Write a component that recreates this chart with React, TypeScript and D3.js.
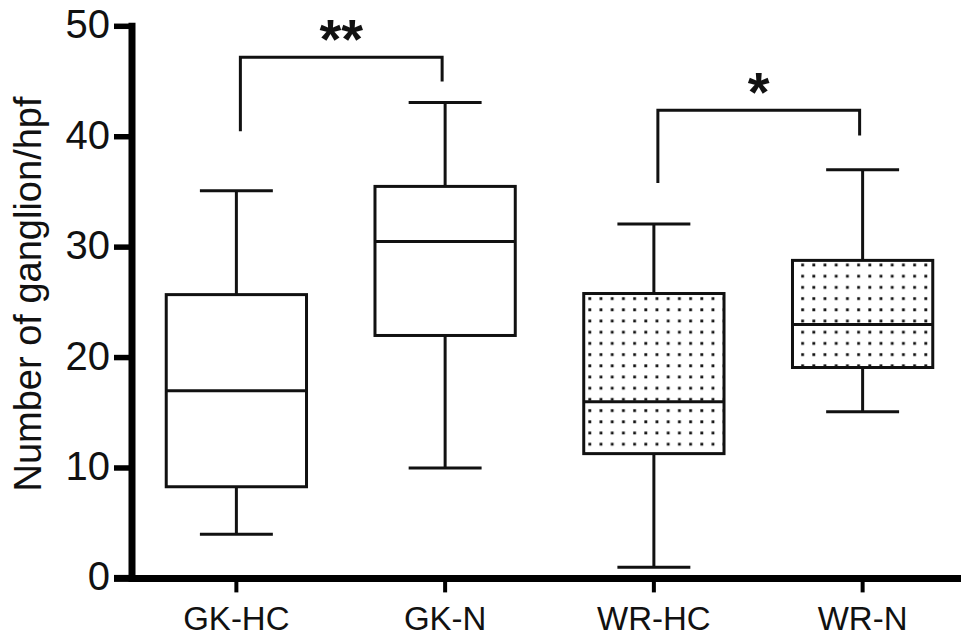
import React from 'react';
import * as d3 from 'd3';

const groups = ['GK-HC', 'GK-N', 'WR-HC', 'WR-N'];
const whiskerLow = [4, 10, 1, 15.1];
const q1 = [8.3, 22, 11.3, 19.1];
const medians = [17, 30.5, 16, 23];
const q3 = [25.7, 35.5, 25.8, 28.8];
const whiskerHigh = [35.1, 43.1, 32.1, 37];
const dotted = [false, false, true, true];
const yTicks = [0, 10, 20, 30, 40, 50];

// significance brackets
const bracketFrom = ['GK-HC', 'WR-HC'];
const bracketTo = ['GK-N', 'WR-N'];
const bracketTop = [47.2, 42.4];
const bracketLeftEnd = [40.5, 35.8];
const bracketRightEnd = [45, 40.1];
const bracketStars = ['**', '*'];

const font = 'Arial, "Liberation Sans", sans-serif';

const App = () => {
  const width = 961;
  const height = 637;
  const axisX = 132;

  const xScale = d3.scaleBand()
    .domain(groups)
    .range([axisX, 967])
    .padding(0);

  const yScale = d3.scaleLinear()
    .domain([0, 50])
    .range([578.4, 26.3]);

  const boxW = xScale.bandwidth() * 0.672;
  const capW = boxW * 0.52;
  const cx = (g: string) => (xScale(g) as number) + xScale.bandwidth() / 2;

  const boxes = groups.map((g, i) => ({
    g, lo: whiskerLow[i], q1: q1[i], med: medians[i], q3: q3[i], hi: whiskerHigh[i], dotted: dotted[i]
  }));

  return (
    <svg width={width} height={height} style={{ position: 'absolute', left: 0, top: 0, background: '#fff' }}>
      <defs>
        <pattern id="dots" patternUnits="userSpaceOnUse" width={11.2} height={11.2} x={2} y={2}>
          <rect width={11.2} height={11.2} fill="#fff" />
          <rect x={4} y={4} width={2.8} height={2.8} fill="#111" />
        </pattern>
      </defs>

      {/* boxes */}
      {boxes.map((d) => {
        const c = cx(d.g);
        return (
          <g key={d.g} stroke="#111" strokeWidth={3} fill="none">
            <line x1={c} x2={c} y1={yScale(d.q3)} y2={yScale(d.hi)} />
            <line x1={c} x2={c} y1={yScale(d.q1)} y2={yScale(d.lo)} />
            <line x1={c - capW / 2} x2={c + capW / 2} y1={yScale(d.hi)} y2={yScale(d.hi)} />
            <line x1={c - capW / 2} x2={c + capW / 2} y1={yScale(d.lo)} y2={yScale(d.lo)} />
            <rect x={c - boxW / 2} y={yScale(d.q3)} width={boxW} height={yScale(d.q1) - yScale(d.q3)}
              fill={d.dotted ? 'url(#dots)' : '#fff'} />
            <line x1={c - boxW / 2} x2={c + boxW / 2} y1={yScale(d.med)} y2={yScale(d.med)} />
          </g>
        );
      })}

      {/* brackets */}
      {bracketFrom.map((f, i) => {
        const x1 = cx(f) + 4;
        const x2 = cx(bracketTo[i]) - 3;
        const top = yScale(bracketTop[i]);
        return (
          <g key={`br-${i}`}>
            <path d={`M${x1},${yScale(bracketLeftEnd[i])}V${top}H${x2}V${yScale(bracketRightEnd[i])}`}
              fill="none" stroke="#111" strokeWidth={3} />
            <text x={(x1 + x2) / 2} y={top + 1} textAnchor="middle" fontFamily={font}
              fontWeight="bold" fontSize={56} fill="#111">{bracketStars[i]}</text>
          </g>
        );
      })}

      {/* y axis */}
      <line x1={axisX} x2={axisX} y1={yScale(50) - 3.5} y2={yScale(0) + 3.5} stroke="#000" strokeWidth={7} />
      {yTicks.map((t) => (
        <g key={`yt-${t}`}>
          <line x1={114} x2={axisX} y1={yScale(t)} y2={yScale(t)} stroke="#000" strokeWidth={t === 0 ? 7 : 5.5} />
          <text x={110} y={yScale(t) + 12} textAnchor="end" fontFamily={font} fontSize={40} fill="#111">{t}</text>
        </g>
      ))}

      {/* x axis */}
      <line x1={axisX} x2={width} y1={yScale(0)} y2={yScale(0)} stroke="#000" strokeWidth={7} />
      {groups.map((g) => (
        <g key={`xt-${g}`}>
          <line x1={cx(g)} x2={cx(g)} y1={yScale(0)} y2={yScale(0) + 14} stroke="#000" strokeWidth={4} />
          <text x={cx(g)} y={630} textAnchor="middle" fontFamily={font} fontSize={33} fill="#111">{g}</text>
        </g>
      ))}

      <text transform="translate(41,294) rotate(-90)" textAnchor="middle" fontFamily={font}
        fontSize={38} fill="#111">Number of ganglion/hpf</text>
    </svg>
  );
};

export default App;
